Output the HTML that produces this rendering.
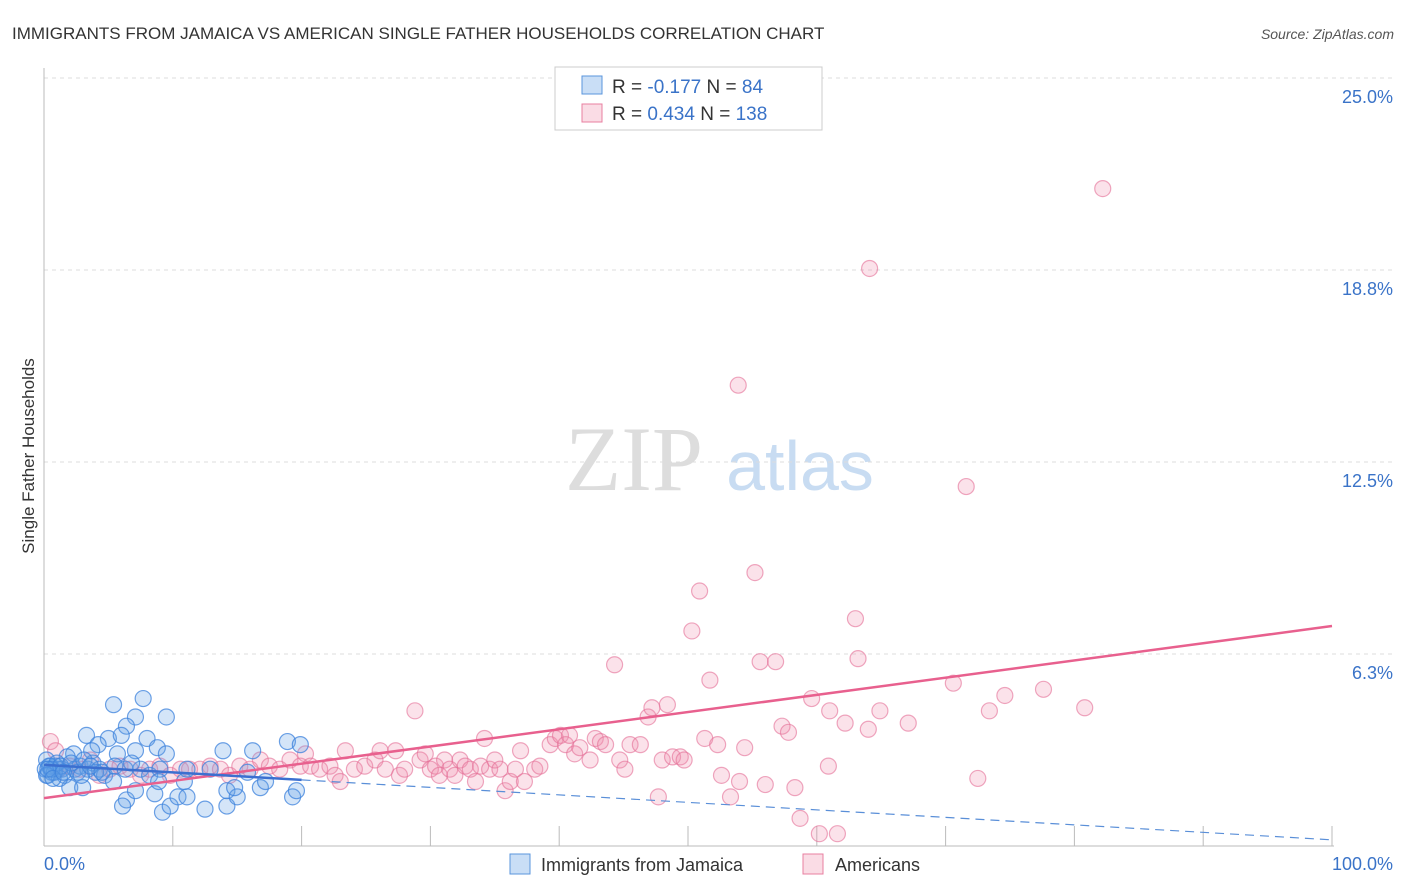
<!DOCTYPE html>
<html><head><meta charset="utf-8"><style>
body{margin:0;background:#fff;font-family:"Liberation Sans",sans-serif}
svg{display:block}
</style></head><body>
<svg id="chart" width="1406" height="892" font-family="Liberation Sans, sans-serif">
<text x="12" y="39" font-size="17" fill="#333">IMMIGRANTS FROM JAMAICA VS AMERICAN SINGLE FATHER HOUSEHOLDS CORRELATION CHART</text>
<text x="1394" y="39" font-size="14" font-style="italic" fill="#555" text-anchor="end">Source: ZipAtlas.com</text>
<text transform="translate(34,456) rotate(-90)" font-size="17" fill="#333" text-anchor="middle">Single Father Households</text>
<g><text x="634" y="490" font-size="92" font-family="Liberation Serif, serif" fill="#ddd" text-anchor="middle">ZIP</text><text x="800" y="490" font-size="70" fill="#c8dcf2" text-anchor="middle">atlas</text></g>
<g id="grid"></g><g id="axes"></g><g id="pts"></g><g id="trend"></g>
<g>
<rect x="555" y="67" width="267" height="63" fill="#fff" stroke="#ccc"/>
<rect x="582" y="76" width="20" height="18" fill="rgba(100,160,230,0.35)" stroke="#5a95dc"/>
<rect x="582" y="104" width="20" height="18" fill="rgba(240,140,170,0.3)" stroke="#e87fa0"/>
<text x="612" y="93" font-size="19" fill="#333">R = <tspan fill="#3a73c8">-0.177</tspan>   N = <tspan fill="#3a73c8"> 84</tspan></text>
<text x="612" y="120" font-size="19" fill="#333">R = <tspan fill="#3a73c8"> 0.434</tspan>   N = <tspan fill="#3a73c8">138</tspan></text>
</g>
<g>
<rect x="510" y="854" width="20" height="20" fill="rgba(100,160,230,0.35)" stroke="#5a95dc"/>
<text x="541" y="871" font-size="18" fill="#333">Immigrants from Jamaica</text>
<rect x="803" y="854" width="20" height="20" fill="rgba(240,140,170,0.3)" stroke="#e87fa0"/>
<text x="835" y="871" font-size="18" fill="#333">Americans</text>
</g>
</svg>
<script>
const yTicks=[6.25,12.5,18.75,25];
const yTickLabels=["6.3%","12.5%","18.8%","25.0%"];
const xEndLabels=["0.0%","100.0%"];
const blueX=[5.4,7.7,9.5,7.1,6.4,3.3,5.0,6.0,8.0,8.8,9.5,7.1,5.7,13.9,16.2,18.9,19.9,4.2,3.7,2.3,1.8,0.5,0.1,0.3,0.6,0.9,1.1,1.4,1.6,2.4,2.8,3.4,3.8,4.3,4.7,5.5,6.3,7.5,8.2,9.0,2.0,3.0,5.4,6.4,6.1,7.1,8.6,8.9,9.2,9.8,10.4,11.1,10.9,12.5,14.2,14.2,15.0,14.8,16.8,17.2,19.3,19.6,15.8,12.9,11.1,1.2,0.2,0.4,0.8,1.0,0.2,0.6,1.3,2.6,2.1,3.1,4.0,0.3,0.7,1.5,2.9,3.6,4.5,6.8];
const blueY=[4.6,4.8,4.2,4.2,3.9,3.6,3.5,3.6,3.5,3.2,3.0,3.1,3.0,3.1,3.1,3.4,3.3,3.3,3.1,3.0,2.9,2.6,2.5,2.3,2.4,2.6,2.5,2.5,2.3,2.5,2.6,2.5,2.7,2.5,2.3,2.6,2.5,2.5,2.3,2.5,1.9,1.9,2.1,1.5,1.3,1.8,1.7,2.1,1.1,1.3,1.6,1.6,2.1,1.2,1.3,1.8,1.6,1.9,1.9,2.1,1.6,1.8,2.4,2.5,2.5,2.2,2.8,2.6,2.4,2.7,2.3,2.5,2.6,2.4,2.7,2.8,2.4,2.5,2.2,2.4,2.3,2.6,2.4,2.7];
const pinkX=[0.5,0.9,1.2,2.0,2.8,3.6,4.3,5.1,5.9,6.7,7.5,8.2,9.0,9.8,10.6,11.3,12.1,12.9,13.7,14.4,15.2,16.0,16.8,17.5,18.3,19.1,19.9,20.3,20.7,21.4,22.2,22.6,23.0,23.4,24.1,24.9,25.7,26.1,26.5,27.3,27.6,28.0,28.8,29.2,29.6,30.0,30.4,30.7,31.1,31.5,31.9,32.3,32.7,33.1,33.5,33.9,34.2,34.6,35.0,35.4,35.8,36.2,36.6,37.0,37.3,38.1,38.5,39.3,39.7,40.1,40.5,40.8,41.2,41.6,42.4,42.8,43.2,43.6,44.3,44.7,45.1,45.5,46.3,46.9,47.2,47.7,48.0,48.4,48.8,49.4,49.7,50.3,50.9,51.3,51.7,52.3,52.6,53.3,53.9,54.0,54.4,55.2,55.6,56.0,56.8,57.3,57.8,58.3,58.7,59.6,60.2,60.9,61.0,61.6,62.2,63.0,63.2,64.0,64.1,64.9,67.1,70.6,71.6,72.5,73.4,74.6,77.6,80.8,82.2];
const pinkY=[3.4,3.1,2.5,2.6,2.5,2.8,2.3,2.5,2.6,2.5,2.3,2.5,2.6,2.3,2.5,2.5,2.5,2.6,2.5,2.3,2.6,2.5,2.8,2.6,2.5,2.8,2.6,3.0,2.6,2.5,2.6,2.3,2.1,3.1,2.5,2.6,2.8,3.1,2.5,3.1,2.3,2.5,4.4,2.8,3.0,2.5,2.6,2.3,2.8,2.5,2.3,2.8,2.6,2.5,2.1,2.6,3.5,2.5,2.8,2.5,1.8,2.1,2.5,3.1,2.1,2.5,2.6,3.3,3.5,3.6,3.3,3.6,3.0,3.2,2.8,3.5,3.4,3.3,5.9,2.8,2.5,3.3,3.3,4.2,4.5,1.6,2.8,4.6,2.9,2.9,2.8,7.0,8.3,3.5,5.4,3.3,2.3,1.6,15.0,2.1,3.2,8.9,6.0,2.0,6.0,3.9,3.7,1.9,0.9,4.8,0.4,2.6,4.4,0.4,4.0,7.4,6.1,3.8,18.8,4.4,4.0,5.3,11.7,2.2,4.4,4.9,5.1,4.5,21.4];
const pinkTrend=[1.56,0.056];
const blueTrend=[2.64,-0.0244];
const blueSolidEnd=20;
const L=44,R=1332,T=78,B=846,NS="http://www.w3.org/2000/svg";
const xs=v=>L+(R-L)*v/100, ys=v=>B-(B-T)*v/25;
function mk(t,a,p){const e=document.createElementNS(NS,t);for(const k in a)e.setAttribute(k,a[k]);p.appendChild(e);return e;}
const grid=document.getElementById('grid'),axes=document.getElementById('axes'),pts=document.getElementById('pts'),tr=document.getElementById('trend');
yTicks.forEach((v,i)=>{
 const g=mk('line',{x1:L,x2:1394,y1:ys(v),y2:ys(v),stroke:'#ddd','stroke-dasharray':'4,4'},grid);
 
 
 const t=mk('text',{x:1393,y:ys(v)+25,'font-size':18,fill:'#3a73c8','text-anchor':'end'},axes);
 t.textContent=yTickLabels[i];
 
 
});
const ax=mk('line',{x1:L,x2:L,y1:68,y2:B,stroke:'#bbb'},axes);


const bx=mk('line',{x1:L,x2:R+2,y1:B,y2:B,stroke:'#bbb'},axes);


for(let k=1;k<=10;k++){const tk=mk('line',{x1:xs(k*10),x2:xs(k*10),y1:B-20,y2:B,stroke:'#bbb'},axes);
 
 }
const xl0=mk('text',{x:L,y:870,'font-size':18,fill:'#3a73c8'},axes);xl0.textContent=xEndLabels[0];


const xl1=mk('text',{x:1393,y:870,'font-size':18,fill:'#3a73c8','text-anchor':'end'},axes);xl1.textContent=xEndLabels[1];


pinkX.forEach((x,i)=>{const c=mk('circle',{cx:xs(x),cy:ys(pinkY[i]),r:8,fill:'rgba(240,140,170,0.25)',stroke:'rgba(228,110,150,0.6)','stroke-width':1.2},pts);
 
 });
blueX.forEach((x,i)=>{const c=mk('circle',{cx:xs(x),cy:ys(blueY[i]),r:8,fill:'rgba(100,160,230,0.28)',stroke:'rgba(60,130,220,0.75)','stroke-width':1.2},pts);
 
 });
const f=(t,x)=>t[0]+t[1]*x;
const pl=mk('line',{x1:xs(0),y1:ys(f(pinkTrend,0)),x2:xs(100),y2:ys(f(pinkTrend,100)),stroke:'#e8608e','stroke-width':2.5},tr);


const bl=mk('line',{x1:xs(0),y1:ys(f(blueTrend,0)),x2:xs(blueSolidEnd),y2:ys(f(blueTrend,blueSolidEnd)),stroke:'#3b6fd0','stroke-width':2.5},tr);


const bd=mk('line',{x1:xs(blueSolidEnd),y1:ys(f(blueTrend,blueSolidEnd)),x2:xs(100),y2:ys(f(blueTrend,100)),stroke:'#5a8fd8','stroke-width':1.2,'stroke-dasharray':'9,6'},tr);


</script>
</body></html>
